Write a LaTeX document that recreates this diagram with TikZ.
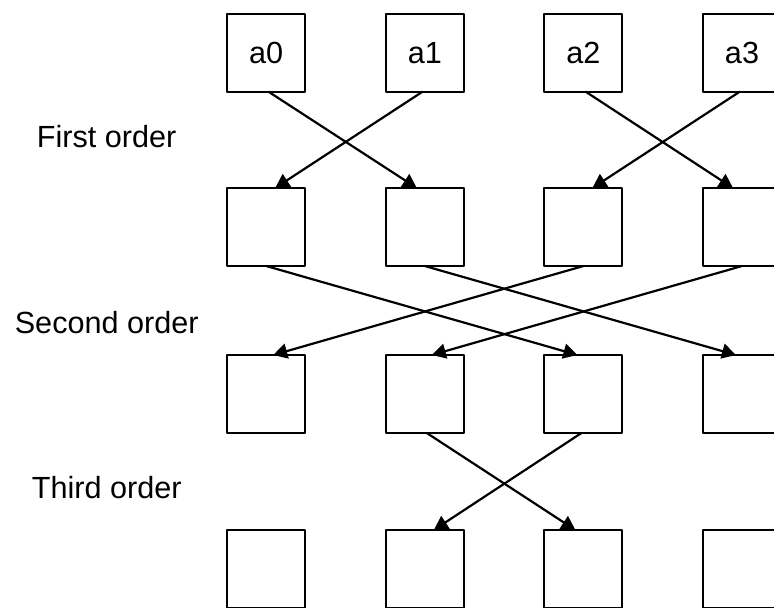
\documentclass[tikz,border=0pt]{standalone}
\usepackage{fontspec}
\setmainfont{Liberation Sans}
\usetikzlibrary{arrows.meta,positioning}

\begin{document}
\begin{tikzpicture}[x=0.5pt,y=-0.5pt,>={Triangle[length=7pt,width=7.5pt]},line join=bevel,
  cell/.style={draw,line width=1pt,minimum size=39pt,inner sep=0pt,outer sep=0pt,
    text height=11pt,text depth=0pt},
  level/.style={inner sep=0pt},
  link/.style={->,line width=1.1pt}]
\useasboundingbox (0,0) rectangle (774,607);
\clip (0,0) rectangle (774,607);
\fontsize{15.3pt}{18pt}\selectfont
% row of inputs
\node[cell] (a0) at (266.2,52.5) {a0};
\node[cell] (a1) at (424.8,52.5) {a1};
\node[cell] (a2) at (583.4,52.5) {a2};
\node[cell] (a3) at (742,52.5) {a3};
% first order
\node[cell] (b0) at (266.2,227) {};
\node[cell] (b1) at (424.8,227) {};
\node[cell] (b2) at (583.4,227) {};
\node[cell] (b3) at (742,227) {};
% second order
\node[cell] (c0) at (266.2,394) {};
\node[cell] (c1) at (424.8,394) {};
\node[cell] (c2) at (583.4,394) {};
\node[cell] (c3) at (742,394) {};
% third order
\node[cell] (d0) at (266.2,569) {};
\node[cell] (d1) at (424.8,569) {};
\node[cell] (d2) at (583.4,569) {};
\node[cell] (d3) at (742,569) {};
% labels
\node[level] (first) at (106.7,137) {First order};
\node[level] (second) at (106.7,323) {Second order};
\node[level] (third) at (106.7,487.5) {Third order};
% butterflies
\draw[link] ([xshift=1pt]a0.south) -- ([xshift=-4pt]b1.north);
\draw[link] ([xshift=-1pt]a1.south) -- ([xshift=4.5pt]b0.north);
\draw[link] ([xshift=1pt]a2.south) -- ([xshift=-4.5pt]b3.north);
\draw[link] ([xshift=-1pt]a3.south) -- ([xshift=4.5pt]b2.north);
\draw[link] (b0.south) -- ([xshift=-3pt]c2.north);
\draw[link] (b1.south) -- ([xshift=-3pt]c3.north);
\draw[link] (b2.south) -- ([xshift=3.5pt]c0.north);
\draw[link] (b3.south) -- ([xshift=3.5pt]c1.north);
\draw[link] ([xshift=1pt]c1.south) -- ([xshift=-4pt]d2.north);
\draw[link] ([xshift=-1pt]c2.south) -- ([xshift=4.5pt]d1.north);
\end{tikzpicture}
\end{document}
